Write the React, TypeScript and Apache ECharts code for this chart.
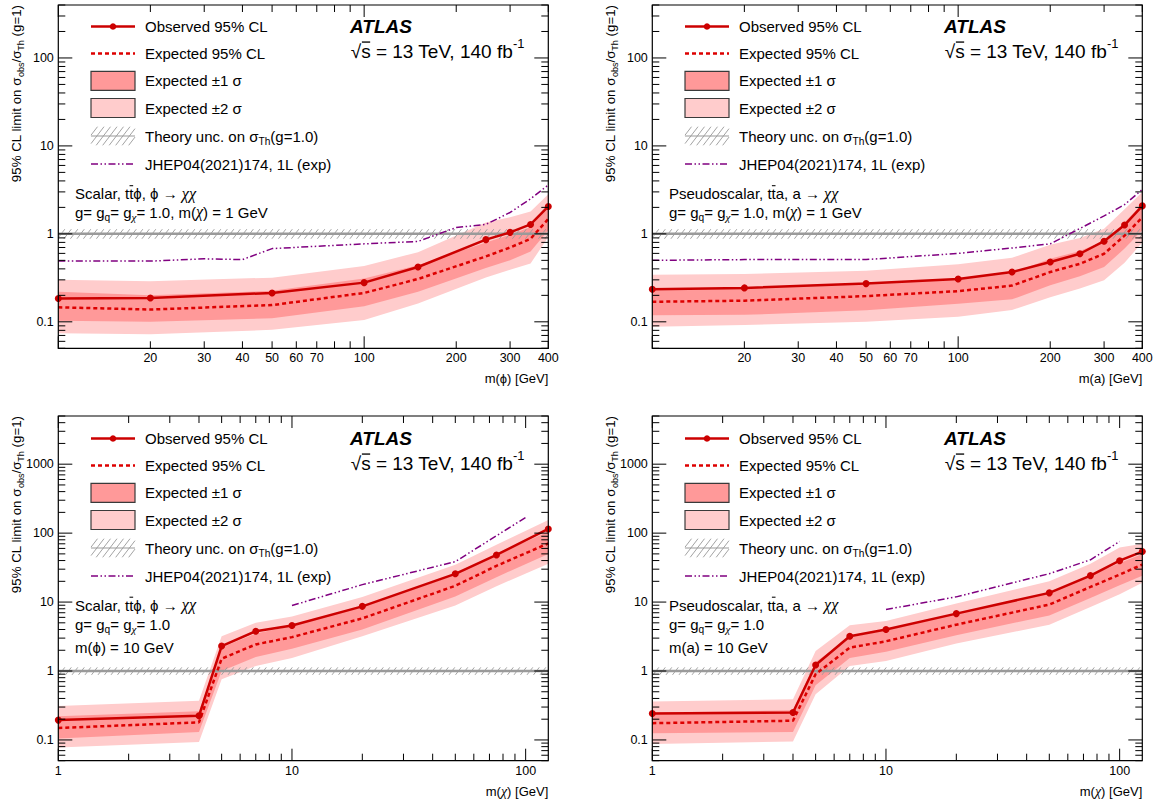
import React, { useEffect, useRef } from "react";
import * as echarts from "echarts";

const FONT = '"Liberation Sans", Arial, Helvetica, sans-serif';
const GREEK_FONT = '"Liberation Serif", "DejaVu Serif", serif';
const OBS_RED = "#cc0000";
const EXP_RED = "#dd0000";
const BAND1 = "#ff9999";
const BAND2 = "#ffcccc";
const JHEP_PURPLE = "#800080";
const THEORY_GREY = "#9a9a9a";
const HATCH_GREY = "#999999";

// ---------- (a) Scalar, m(chi) = 1 GeV, limit vs m(phi)
const scalarMphi = [10, 20, 50, 100, 150, 250, 300, 350, 400];
const scalarMphiObs = [0.184, 0.187, 0.213, 0.279, 0.42, 0.86, 1.04, 1.28, 2.05];
const scalarMphiExp = [0.146, 0.138, 0.155, 0.213, 0.307, 0.554, 0.7, 0.88, 1.48];
const scalarMphiP1 = [0.22, 0.2, 0.225, 0.31, 0.44, 0.8, 0.98, 1.2, 2.1];
const scalarMphiM1 = [0.103, 0.1, 0.11, 0.15, 0.22, 0.41, 0.5, 0.63, 1.1];
const scalarMphiP2 = [0.3, 0.29, 0.318, 0.43, 0.62, 1.35, 1.55, 1.8, 2.83];
const scalarMphiM2 = [0.074, 0.072, 0.081, 0.105, 0.162, 0.32, 0.39, 0.46, 0.92];
const scalarMphiJhepX = [10, 20, 30, 40, 50, 100, 150, 200, 250, 300, 350, 400];
const scalarMphiJhepY = [0.49, 0.49, 0.52, 0.51, 0.68, 0.77, 0.82, 1.18, 1.28, 1.75, 2.5, 3.6];

// ---------- (b) Pseudoscalar, m(chi) = 1 GeV, limit vs m(a)
const pseudoMa = [10, 20, 50, 100, 150, 200, 250, 300, 350, 400];
const pseudoMaObs = [0.235, 0.243, 0.272, 0.307, 0.368, 0.478, 0.594, 0.826, 1.26, 2.08];
const pseudoMaExp = [0.169, 0.174, 0.196, 0.223, 0.258, 0.368, 0.457, 0.594, 0.955, 1.54];
const pseudoMaP1 = [0.24, 0.245, 0.27, 0.31, 0.36, 0.52, 0.64, 0.83, 1.35, 2.2];
const pseudoMaM1 = [0.119, 0.12, 0.135, 0.16, 0.18, 0.26, 0.33, 0.42, 0.68, 1.1];
const pseudoMaP2 = [0.344, 0.35, 0.38, 0.45, 0.535, 0.75, 0.9, 1.14, 1.9, 3.0];
const pseudoMaM2 = [0.088, 0.092, 0.1, 0.114, 0.136, 0.19, 0.24, 0.297, 0.47, 0.8];
const pseudoMaJhepX = [10, 20, 50, 100, 150, 200, 250, 300, 350, 400];
const pseudoMaJhepY = [0.5, 0.51, 0.51, 0.6, 0.69, 0.77, 1.15, 1.6, 2.15, 3.2];

// ---------- (c) Scalar, m(phi) = 10 GeV, limit vs m(chi)
const scalarMchi = [1, 4, 5, 7, 10, 20, 50, 75, 125];
const scalarMchiObs = [0.194, 0.224, 2.3, 3.78, 4.57, 8.67, 25.7, 48.3, 115];
const scalarMchiExp = [0.149, 0.18, 1.51, 2.43, 3.1, 5.8, 17.2, 33.5, 71];
const scalarMchiP1 = [0.22, 0.26, 2.2, 3.5, 4.5, 8.5, 25, 49, 105];
const scalarMchiM1 = [0.105, 0.13, 1.0, 1.6, 2.1, 4.0, 12, 23, 50];
const scalarMchiP2 = [0.31, 0.37, 3.2, 5.0, 6.2, 11.8, 34.7, 68, 155];
const scalarMchiM2 = [0.078, 0.093, 0.76, 1.18, 1.55, 3.2, 8.9, 17, 36];
const scalarMchiJhepX = [10, 20, 50, 100];
const scalarMchiJhepY = [8.9, 17.9, 38.6, 169];

// ---------- (d) Pseudoscalar, m(a) = 10 GeV, limit vs m(chi)
const pseudoMchi = [1, 4, 5, 7, 10, 20, 50, 75, 100, 125];
const pseudoMchiObs = [0.242, 0.25, 1.22, 3.2, 4.0, 6.8, 13.6, 24.2, 39.8, 54];
const pseudoMchiExp = [0.175, 0.19, 0.9, 2.18, 2.7, 4.7, 9.2, 16.6, 25, 35];
const pseudoMchiP1 = [0.25, 0.27, 1.35, 3.1, 3.9, 6.7, 13.5, 24, 37, 50];
const pseudoMchiM1 = [0.125, 0.13, 0.62, 1.55, 1.9, 3.3, 6.4, 11.5, 17.5, 24];
const pseudoMchiP2 = [0.36, 0.39, 1.95, 4.6, 5.3, 9.5, 20, 36, 62, 70];
const pseudoMchiM2 = [0.087, 0.095, 0.46, 1.18, 1.4, 2.5, 4.7, 8.5, 13, 19];
const pseudoMchiJhepX = [10, 20, 50, 75, 100];
const pseudoMchiJhepY = [7.8, 11.9, 25.8, 41, 75.6];

// theory uncertainty band around sigma_obs/sigma_Th = 1
const theoryCentral = 1;
const theoryLow = 0.88;
const theoryHigh = 1.13;

// axis ranges and tick labels
const massRange = [10, 400];
const chiRange = [1, 125];
const limitRangeTop = [0.05, 400];
const limitRangeBottom = [0.05, 5000];
const massTickLabels = [20, 30, 40, 50, 60, 70, 100, 200, 300, 400];
const chiTickLabels = [1, 10, 100];
const limitTickLabelsTop = [0.1, 1, 10, 100];
const limitTickLabelsBottom = [0.1, 1, 10, 100, 1000];

// ---------------- helpers
let mctx: any = null;
function textWidth(t: string, size: number, weight = "normal", style = "normal", family = FONT) {
  if (!mctx) mctx = document.createElement("canvas").getContext("2d");
  mctx.font = `${style} ${weight} ${size}px ${family}`;
  return mctx.measureText(t).width;
}

function txt(text: string, x: number, y: number, size: number, opts: any = {}) {
  const align = opts.align || "left";
  return {
    type: "text",
    x,
    y,
    silent: true,
    style: {
      text,
      fill: opts.fill || "#000",
      fontSize: size,
      fontFamily: opts.family || FONT,
      fontWeight: opts.weight || "normal",
      fontStyle: opts.style || "normal",
      align,
      verticalAlign: "middle",
      textAlign: align,
      textVerticalAlign: "middle",
    },
  };
}

type Part = { t: string; sub?: boolean; sup?: boolean; bar?: boolean; barY?: number; greek?: boolean };

// split out chi characters so they render in a symbol-like italic serif face
function greekify(parts: Part[]): Part[] {
  const out: Part[] = [];
  for (const p of parts) {
    if (p.t.indexOf("χ") < 0) {
      out.push(p);
      continue;
    }
    const pieces = p.t.split(/(χ)/).filter((s) => s.length > 0);
    for (const s of pieces) out.push({ ...p, t: s, greek: s === "χ" });
  }
  return out;
}

function rich(partsIn: Part[], size: number, x: number, y: number, opts: any = {}) {
  const parts = greekify(partsIn);
  const children: any[] = [];
  let cx = 0;
  for (const p of parts) {
    const s0 = p.sub || p.sup ? size * 0.68 : size;
    const s = p.greek ? s0 * 1.08 : s0;
    const dy = p.sub ? size * 0.34 : p.sup ? -size * 0.42 : 0;
    const fam = p.greek ? GREEK_FONT : FONT;
    const fst = p.greek ? "italic" : opts.style || "normal";
    const w = textWidth(p.t, s, opts.weight || "normal", fst, fam);
    children.push(txt(p.t, cx, dy, s, { ...opts, family: fam, style: fst, align: "left" }));
    if (p.bar) {
      const by = -size * (p.barY ?? 0.52);
      children.push({
        type: "line",
        silent: true,
        shape: { x1: cx + w * 0.08, y1: by, x2: cx + w * 0.95, y2: by },
        style: { stroke: "#000", lineWidth: Math.max(1, size * 0.07) },
      });
    }
    cx += w;
  }
  if (opts.anchor === "right") {
    for (const c of children) {
      if (c.type === "text") c.x -= cx;
      else {
        c.shape.x1 -= cx;
        c.shape.x2 -= cx;
      }
    }
  }
  return { type: "group", x, y, rotation: opts.rotation || 0, silent: true, children };
}

function hatch(L: number, R: number, T: number, B: number, step: number, color: string, lw: number, slope = 1) {
  const h = B - T;
  const dx = h / slope;
  const out: any[] = [];
  for (let a = L - dx; a < R; a += step) {
    let x1 = a, y1 = B, x2 = a + dx, y2 = T;
    if (x1 < L) {
      y1 = B - (L - a) * slope;
      x1 = L;
    }
    if (x2 > R) {
      y2 = T + (x2 - R) * slope;
      x2 = R;
    }
    if (x2 > x1) out.push({ type: "line", silent: true, shape: { x1, y1, x2, y2 }, style: { stroke: color, lineWidth: lw } });
  }
  return out;
}

function logTicks(min: number, max: number) {
  const out: number[] = [];
  for (let k = Math.floor(Math.log10(min)); k <= Math.ceil(Math.log10(max)); k++) {
    for (let m = 1; m <= 9; m++) {
      const v = m * Math.pow(10, k);
      if (v >= min * (1 - 1e-9) && v <= max * (1 + 1e-9)) out.push(v);
    }
  }
  return out;
}
const isDecade = (v: number) => Math.abs(Math.log10(v) - Math.round(Math.log10(v))) < 1e-6;
const fmt = (v: number) => (v < 1 ? String(v) : String(Math.round(v)));

const sub = (t: string): Part => ({ t, sub: true });

const panels = [
  {
    left: 58.3, top: 5, width: 490, height: 343.3, ox: 0, oy: 0,
    xr: massRange, yr: limitRangeTop,
    x: scalarMphi, obs: scalarMphiObs, exp: scalarMphiExp,
    p1: scalarMphiP1, m1: scalarMphiM1, p2: scalarMphiP2, m2: scalarMphiM2,
    jx: scalarMphiJhepX, jy: scalarMphiJhepY,
    xLabels: massTickLabels, yLabels: limitTickLabelsTop,
    xTitle: "m(ϕ) [GeV]",
    model: [
      { y: 193.5, parts: [{ t: "Scalar, t" }, { t: "t", bar: true }, { t: "ϕ, ϕ → χχ" }] },
      { y: 212, parts: [{ t: "g= g" }, sub("q"), { t: "= g" }, sub("χ"), { t: "= 1.0, m(χ) = 1 GeV" }] },
    ],
  },
  {
    left: 652.3, top: 5, width: 490, height: 343.3, ox: 594, oy: 0,
    xr: massRange, yr: limitRangeTop,
    x: pseudoMa, obs: pseudoMaObs, exp: pseudoMaExp,
    p1: pseudoMaP1, m1: pseudoMaM1, p2: pseudoMaP2, m2: pseudoMaM2,
    jx: pseudoMaJhepX, jy: pseudoMaJhepY,
    xLabels: massTickLabels, yLabels: limitTickLabelsTop,
    xTitle: "m(a) [GeV]",
    model: [
      { y: 193.5, parts: [{ t: "Pseudoscalar, t" }, { t: "t", bar: true }, { t: "a, a → χχ" }] },
      { y: 212, parts: [{ t: "g= g" }, sub("q"), { t: "= g" }, sub("χ"), { t: "= 1.0, m(χ) = 1 GeV" }] },
    ],
  },
  {
    left: 58.3, top: 416, width: 490, height: 344.7, ox: 0, oy: 412,
    xr: chiRange, yr: limitRangeBottom,
    x: scalarMchi, obs: scalarMchiObs, exp: scalarMchiExp,
    p1: scalarMchiP1, m1: scalarMchiM1, p2: scalarMchiP2, m2: scalarMchiM2,
    jx: scalarMchiJhepX, jy: scalarMchiJhepY,
    xLabels: chiTickLabels, yLabels: limitTickLabelsBottom,
    xTitle: "m(χ) [GeV]",
    model: [
      { y: 605, parts: [{ t: "Scalar, t" }, { t: "t", bar: true }, { t: "ϕ, ϕ → χχ" }] },
      { y: 624, parts: [{ t: "g= g" }, sub("q"), { t: "= g" }, sub("χ"), { t: "= 1.0" }] },
      { y: 647.5, parts: [{ t: "m(ϕ) = 10 GeV" }] },
    ],
  },
  {
    left: 652.3, top: 416, width: 490, height: 344.7, ox: 594, oy: 412,
    xr: chiRange, yr: limitRangeBottom,
    x: pseudoMchi, obs: pseudoMchiObs, exp: pseudoMchiExp,
    p1: pseudoMchiP1, m1: pseudoMchiM1, p2: pseudoMchiP2, m2: pseudoMchiM2,
    jx: pseudoMchiJhepX, jy: pseudoMchiJhepY,
    xLabels: chiTickLabels, yLabels: limitTickLabelsBottom,
    xTitle: "m(χ) [GeV]",
    model: [
      { y: 605, parts: [{ t: "Pseudoscalar, t" }, { t: "t", bar: true }, { t: "a, a → χχ" }] },
      { y: 624, parts: [{ t: "g= g" }, sub("q"), { t: "= g" }, sub("χ"), { t: "= 1.0" }] },
      { y: 647.5, parts: [{ t: "m(a) = 10 GeV" }] },
    ],
  },
];

function legendElements(ox: number, oy: number) {
  const els: any[] = [];
  const lx1 = 91 + ox, lx2 = 135 + ox, tx = 145 + ox;
  const rows = [26.5, 53.5, 80.8, 108, 136, 164].map((v) => v + oy);
  const fs = 15;
  // observed
  els.push({ type: "line", silent: true, shape: { x1: lx1, y1: rows[0], x2: lx2, y2: rows[0] }, style: { stroke: OBS_RED, lineWidth: 2.5 } });
  els.push({ type: "circle", silent: true, shape: { cx: (lx1 + lx2) / 2, cy: rows[0], r: 3.3 }, style: { fill: OBS_RED } });
  els.push(txt("Observed 95% CL", tx, rows[0], fs));
  // expected
  els.push({ type: "line", silent: true, shape: { x1: lx1, y1: rows[1], x2: lx2, y2: rows[1] }, style: { stroke: EXP_RED, lineWidth: 2.5, lineDash: [4, 3] } });
  els.push(txt("Expected 95% CL", tx, rows[1], fs));
  // bands
  els.push({ type: "rect", silent: true, shape: { x: lx1, y: rows[2] - 9.5, width: lx2 - lx1, height: 19 }, style: { fill: BAND1, stroke: "#3a3a3a", lineWidth: 1.2 } });
  els.push(txt("Expected ±1 σ", tx, rows[2], fs));
  els.push({ type: "rect", silent: true, shape: { x: lx1, y: rows[3] - 9.5, width: lx2 - lx1, height: 19 }, style: { fill: BAND2, stroke: "#3a3a3a", lineWidth: 1.2 } });
  els.push(txt("Expected ±2 σ", tx, rows[3], fs));
  // theory
  hatch(lx1, lx2, rows[4] - 9.3, rows[4] + 9.3, 6.5, HATCH_GREY, 0.9, 1.3).forEach((e) => els.push(e));
  els.push({ type: "line", silent: true, shape: { x1: lx1, y1: rows[4], x2: lx2, y2: rows[4] }, style: { stroke: THEORY_GREY, lineWidth: 1.2 } });
  els.push(rich([{ t: "Theory unc. on σ" }, sub("Th"), { t: "(g=1.0)" }], fs, tx, rows[4]));
  // JHEP
  els.push({ type: "line", silent: true, shape: { x1: lx1, y1: rows[5], x2: lx2, y2: rows[5] }, style: { stroke: JHEP_PURPLE, lineWidth: 1.5, lineDash: [7, 2.5, 1.5, 2.5, 1.5, 2.5] } });
  els.push(txt("JHEP04(2021)174, 1L (exp)", tx, rows[5], fs));
  // ATLAS label
  els.push(txt("ATLAS", 350 + ox, 26 + oy, 19, { weight: "bold", style: "italic" }));
  els.push(rich([{ t: "√" }, { t: "s", bar: true, barY: 0.47 }, { t: " = 13 TeV, 140 fb" }, { t: "-1", sup: true }], 19, 350.7 + ox, 51 + oy));
  return els;
}

function buildOption() {
  const series: any[] = [];
  const graphics: any[] = [];
  panels.forEach((p, i) => {
    const ax = { xAxisIndex: i, yAxisIndex: i };
    // expected bands
    series.push({
      type: "custom", ...ax, z: 1, silent: true, clip: false,
      data: [[p.x[0], p.exp[0]]],
      renderItem: (_params: any, api: any) => {
        const poly = (lo: number[], hi: number[], fill: string) => {
          const pts = p.x.map((x, k) => api.coord([x, hi[k]]));
          for (let k = p.x.length - 1; k >= 0; k--) pts.push(api.coord([p.x[k], lo[k]]));
          return { type: "polygon", shape: { points: pts }, style: { fill, stroke: null, lineWidth: 0 } };
        };
        return { type: "group", children: [poly(p.m2, p.p2, BAND2), poly(p.m1, p.p1, BAND1)] };
      },
    });
    // theory line + hatch
    series.push({
      type: "custom", ...ax, z: 2, silent: true, clip: false,
      data: [[p.xr[0], theoryCentral]],
      renderItem: (_params: any, api: any) => {
        const L = api.coord([p.xr[0], theoryCentral])[0];
        const R = api.coord([p.xr[1], theoryCentral])[0];
        const yc = api.coord([p.xr[0], theoryCentral])[1];
        const yH = api.coord([p.xr[0], theoryHigh])[1];
        const yL = api.coord([p.xr[0], theoryLow])[1];
        const children = hatch(L, R, yH, yL, 6.5, HATCH_GREY, 0.9, 1.3);
        children.push({ type: "line", shape: { x1: L, y1: yc, x2: R, y2: yc }, style: { stroke: THEORY_GREY, lineWidth: 2.5 } });
        return { type: "group", children };
      },
    });
    // expected limit
    series.push({
      type: "line", ...ax, z: 3, silent: true,
      data: p.x.map((x, k) => [x, p.exp[k]]),
      symbol: "none",
      lineStyle: { color: EXP_RED, width: 2.5, type: [4, 3] },
    });
    // JHEP
    series.push({
      type: "line", ...ax, z: 4, silent: true,
      data: p.jx.map((x, k) => [x, p.jy[k]]),
      symbol: "none",
      lineStyle: { color: JHEP_PURPLE, width: 1.5, type: [7, 2.5, 1.5, 2.5, 1.5, 2.5] },
    });
    // observed
    series.push({
      type: "line", ...ax, z: 5, silent: true, clip: false,
      data: p.x.map((x, k) => [x, p.obs[k]]),
      symbol: "circle", symbolSize: 7,
      itemStyle: { color: OBS_RED },
      lineStyle: { color: OBS_RED, width: 2.5 },
    });
    // frame, ticks, tick labels
    const xTicks = logTicks(p.xr[0], p.xr[1]);
    const yTicks = logTicks(p.yr[0], p.yr[1]);
    series.push({
      type: "custom", ...ax, z: 10, silent: true, clip: false,
      data: [[p.xr[0], p.yr[0]]],
      renderItem: (_params: any, api: any) => {
        const [xa, xb] = p.xr;
        const [ya, yb] = p.yr;
        const [L, T] = api.coord([xa, yb]);
        const [R, B] = api.coord([xb, ya]);
        const ch: any[] = [];
        const seg = (x1: number, y1: number, x2: number, y2: number) =>
          ch.push({ type: "line", shape: { x1, y1, x2, y2 }, style: { stroke: "#000", lineWidth: 1 } });
        for (const v of xTicks) {
          const px = api.coord([v, ya])[0];
          const len = isDecade(v) ? 12 : 7;
          seg(px, B, px, B - len);
          seg(px, T, px, T + len);
        }
        for (const v of yTicks) {
          const py = api.coord([xa, v])[1];
          const len = isDecade(v) ? 14 : 7;
          seg(L, py, L + len, py);
          seg(R, py, R - len, py);
        }
        ch.push({ type: "rect", shape: { x: L, y: T, width: R - L, height: B - T }, style: { fill: "none", stroke: "#000", lineWidth: 1.2 } });
        for (const v of p.xLabels) {
          const px = api.coord([v, ya])[0];
          ch.push(txt(fmt(v), px, B + 10, 12.5, { align: "center" }));
        }
        for (const v of p.yLabels) {
          const py = api.coord([xa, v])[1];
          ch.push(txt(fmt(v), L - 4.5, py, 12.5, { align: "right" }));
        }
        return { type: "group", children: ch };
      },
    });

    // graphics: legend, labels, titles
    legendElements(p.ox, p.oy).forEach((e) => graphics.push(e));
    p.model.forEach((m) => graphics.push(rich(m.parts as Part[], 15, 75 + p.ox, m.y)));
    graphics.push(rich([{ t: p.xTitle }], 13, p.left + p.width, p.top + p.height + 30.5, { anchor: "right" }));
    graphics.push(
      rich([{ t: "95% CL limit on σ" }, sub("obs"), { t: "/σ" }, sub("Th"), { t: " (g=1)" }], 13.3, 16 + p.ox, p.top, {
        anchor: "right",
        rotation: Math.PI / 2,
      })
    );
  });

  return {
    animation: false,
    backgroundColor: "#fff",
    grid: panels.map((p) => ({ left: p.left, top: p.top, width: p.width, height: p.height, show: false })),
    xAxis: panels.map((p, i) => ({
      type: "log", logBase: 10, gridIndex: i, min: p.xr[0], max: p.xr[1], show: false,
      splitLine: { show: false },
    })),
    yAxis: panels.map((p, i) => ({
      type: "log", logBase: 10, gridIndex: i, min: p.yr[0], max: p.yr[1], show: false,
      splitLine: { show: false },
    })),
    series,
    graphic: { elements: graphics },
  };
}

export default function App() {
  const ref = useRef<HTMLDivElement>(null);
  useEffect(() => {
    const chart = echarts.init(ref.current!, null, { renderer: "svg" });
    chart.setOption(buildOption() as any);
    return () => chart.dispose();
  }, []);
  return (
    <div
      ref={ref}
      style={{ position: "fixed", left: 0, top: 0, width: 1160, height: 805, background: "#fff" }}
    />
  );
}
